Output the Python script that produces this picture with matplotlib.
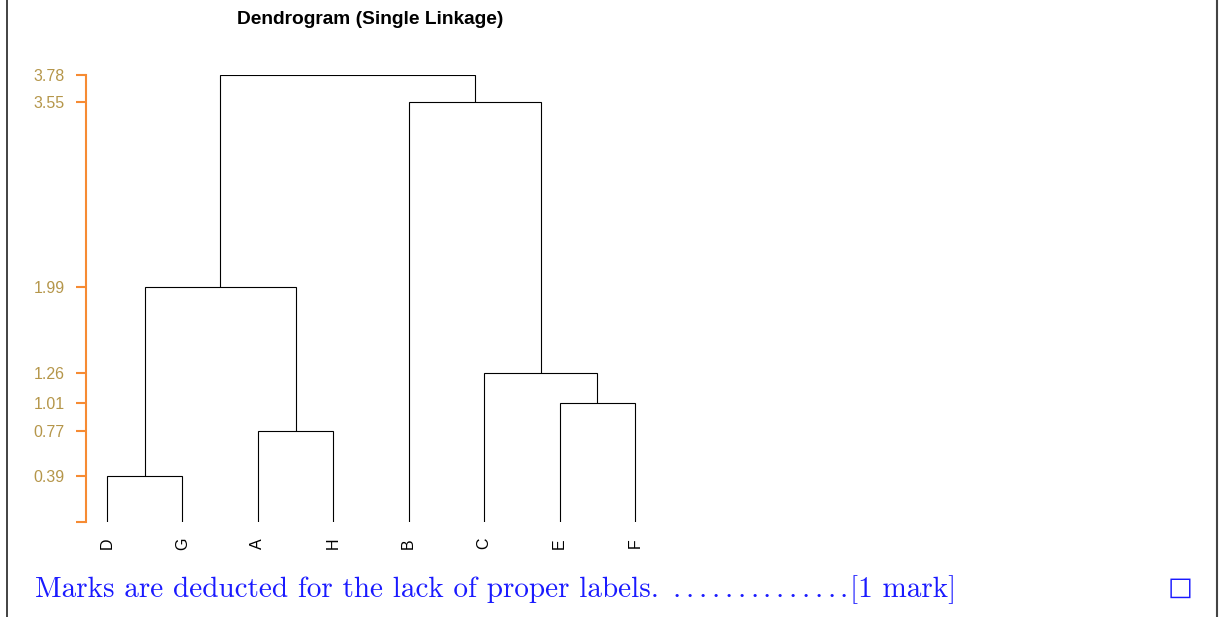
import matplotlib
matplotlib.use("Agg")
import matplotlib.pyplot as plt
from matplotlib.lines import Line2D

# ---- data ----
leaf_labels = ["D", "G", "A", "H", "B", "C", "E", "F"]
merge_left = ["D", "A", "E", "C", "DG", "B", "DGAH"]
merge_right = ["G", "H", "F", "EF", "AH", "CEF", "BCEF"]
merge_height = [0.39, 0.77, 1.01, 1.26, 1.99, 3.55, 3.78]
ytick_values = [0, 0.39, 0.77, 1.01, 1.26, 1.99, 3.55, 3.78]
ytick_labels = ["", "0.39", "0.77", "1.01", "1.26", "1.99", "3.55", "3.78"]
title = "Dendrogram (Single Linkage)"
note = "Marks are deducted for the lack of proper labels."
note_mark = "[1 mark]"
n_dots = 14

W, H = 1219, 617
fig = plt.figure(figsize=(W / 100, H / 100), dpi=100)

# axes placement in pixels
px_left, px_right = 86, 655
px_top, px_bottom = 75, 522
ax = fig.add_axes([px_left / W, 1 - px_bottom / H,
                   (px_right - px_left) / W, (px_bottom - px_top) / H])

# build dendrogram geometry
pos = {lab: float(i) for i, lab in enumerate(leaf_labels)}
hgt = {lab: 0.0 for lab in leaf_labels}
for l, r, h in zip(merge_left, merge_right, merge_height):
    xl, xr = pos[l], pos[r]
    ax.plot([xl, xl, xr, xr], [hgt[l], h, h, hgt[r]], color="black",
            lw=0.8, solid_joinstyle="miter", solid_capstyle="butt")
    name = l + r
    pos[name] = (xl + xr) / 2
    hgt[name] = h

unit = (635 - 107) / 7
ax.set_xlim(-(107 - px_left) / unit, 7 + (px_right - 635) / unit)
ax.set_ylim(0, max(merge_height))

orange = "#f68b33"
gold = "#b5964a"
for s in ["top", "right", "bottom"]:
    ax.spines[s].set_visible(False)
ax.spines["left"].set_color(orange)
ax.spines["left"].set_linewidth(1.5)
ax.set_yticks(ytick_values)
ax.set_yticklabels(ytick_labels)
ax.tick_params(axis="y", colors=orange, labelcolor=gold, length=7.5,
               width=1.5, pad=8, labelsize=11.5)
for t in ax.get_yticklabels():
    t.set_fontfamily("Liberation Sans")

ax.set_xticks(range(len(leaf_labels)))
ax.set_xticklabels(leaf_labels, rotation=90, fontfamily="Liberation Sans",
                   fontsize=11.5)
ax.tick_params(axis="x", length=0, pad=11.5)

fig.text(370.5 / W, 1 - 19 / H, title, ha="center", va="center",
         fontsize=13.8, fontweight="bold", family="Liberation Sans")

blue = "#1a1aff"
fig.text(35 / W, 1 - 597 / H, note, ha="left", va="baseline",
         fontsize=21, family="cmr10", color=blue)
dot_x0, dot_step = 677, 12.85
for i in range(n_dots):
    fig.text((dot_x0 + i * dot_step) / W, 1 - 597 / H, ".", ha="center",
             va="baseline", fontsize=21, family="cmr10", color=blue)
fig.text(850 / W, 1 - 597 / H, note_mark, ha="left", va="baseline",
         fontsize=21, family="cmr10", color=blue)
fig.text(1180 / W, 1 - 587.5 / H, "□", ha="center", va="center",
         fontsize=19, family="DejaVu Sans", color=blue)

fig.add_artist(Line2D([7 / W, 7 / W], [0, 1], color="#222222", lw=1.2,
                      transform=fig.transFigure))
fig.add_artist(Line2D([1217 / W, 1217 / W], [0, 1], color="#444444", lw=1.5,
                      transform=fig.transFigure))

fig.savefig("out.png", dpi=100)
